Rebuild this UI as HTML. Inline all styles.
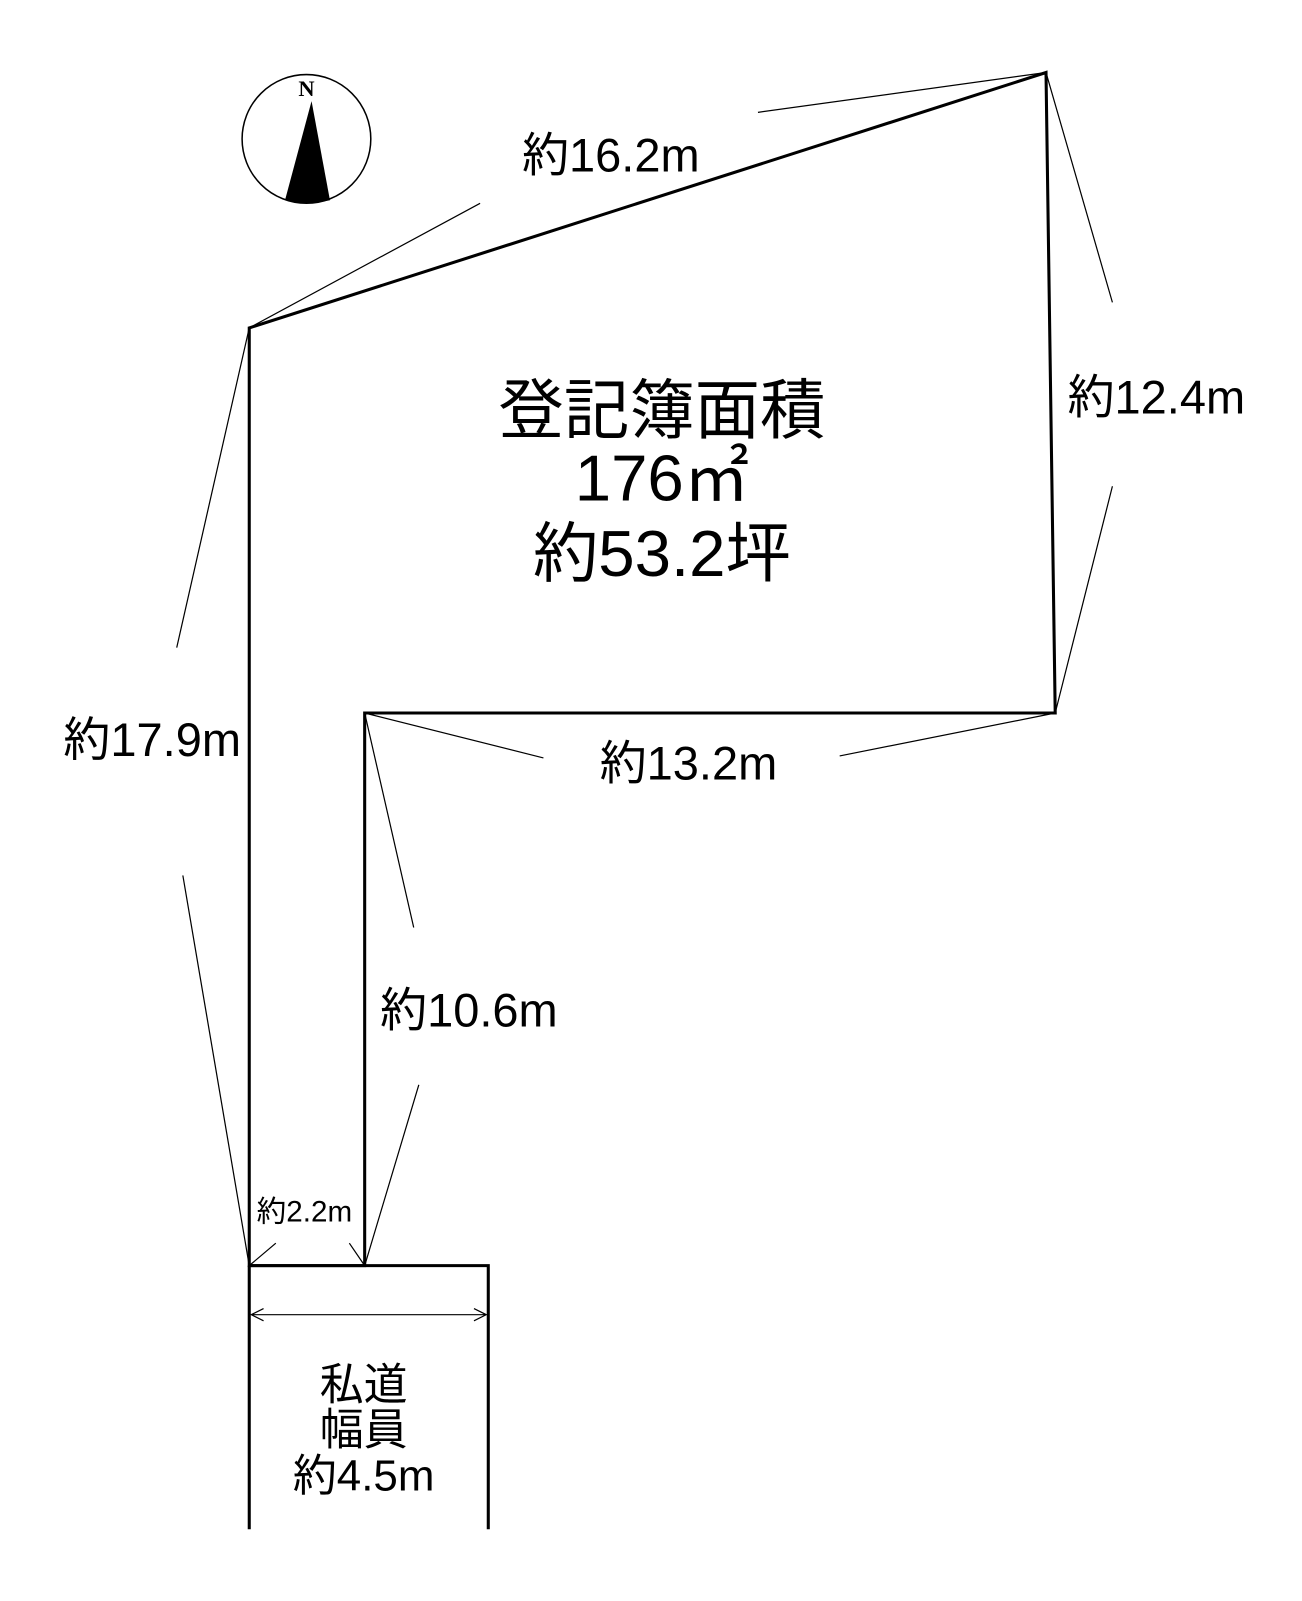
<!DOCTYPE html>
<html><head><meta charset="utf-8"><style>
html,body{margin:0;padding:0;background:#fff;}
svg text{font-family:"Liberation Sans","Noto Sans CJK JP",sans-serif;fill:#000;}
</style></head><body>
<svg width="1302" height="1596" viewBox="0 0 1274.6 1562.4" xmlns="http://www.w3.org/2000/svg" preserveAspectRatio="none">
<rect width="1302" height="1596" fill="#fff"/>
<!-- compass -->
<circle cx="300" cy="136" r="63" fill="none" stroke="#000" stroke-width="1.5"/>
<text x="300" y="94" font-size="22" text-anchor="middle" style="font-family:'Liberation Serif',serif;font-weight:bold">N</text>
<path d="M305 99 L279 196 Q300 201 323 196 Z" fill="#000"/>
<!-- lot outline -->
<path d="M244 321 L1024 71 L1033 698 L357 698 L357 1239 L244 1239 Z" fill="none" stroke="#000" stroke-width="3"/>
<!-- road -->
<path d="M244 1239 L478 1239 L478 1497 M244 1239 L244 1497" fill="none" stroke="#000" stroke-width="3"/>
<!-- dimension lines -->
<g stroke="#000" stroke-width="1.2" fill="none">
<path d="M244 321 L470 199 M742 110 L1024 71"/>
<path d="M1024 71 L1089 296 M1089 476 L1033 698"/>
<path d="M244 321 L173 634 M179 857 L244 1239"/>
<path d="M357 698 L532 742 M822 740 L1033 698"/>
<path d="M357 698 L405 908 M410 1062 L357 1239"/>
<path d="M244 1239 L270 1217 M342 1217 L357 1239"/>
<path d="M246 1287 L476 1287 M258 1281 L246 1287 L258 1293 M464 1281 L476 1287 L464 1293"/>
</g>
<!-- labels -->
<g font-size="46" text-anchor="middle">
<text x="598" y="168">約16.2m</text>
<text x="1132" y="405">約12.4m</text>
<text x="149" y="740">約17.9m</text>
<text x="674" y="763">約13.2m</text>
<text x="459" y="1005">約10.6m</text>
</g>
<text x="298" y="1196" font-size="29" text-anchor="middle">約2.2m</text>
<g font-size="64" text-anchor="middle">
<text x="648" y="424">登記簿面積</text>
<text x="648" y="490">176㎡</text>
<text x="648" y="564">約53.2坪</text>
</g>
<g font-size="43" text-anchor="middle">
<text x="356" y="1370">私道</text>
<text x="356" y="1414">幅員</text>
<text x="356" y="1459">約4.5m</text>
</g>
</svg>
</body></html>
